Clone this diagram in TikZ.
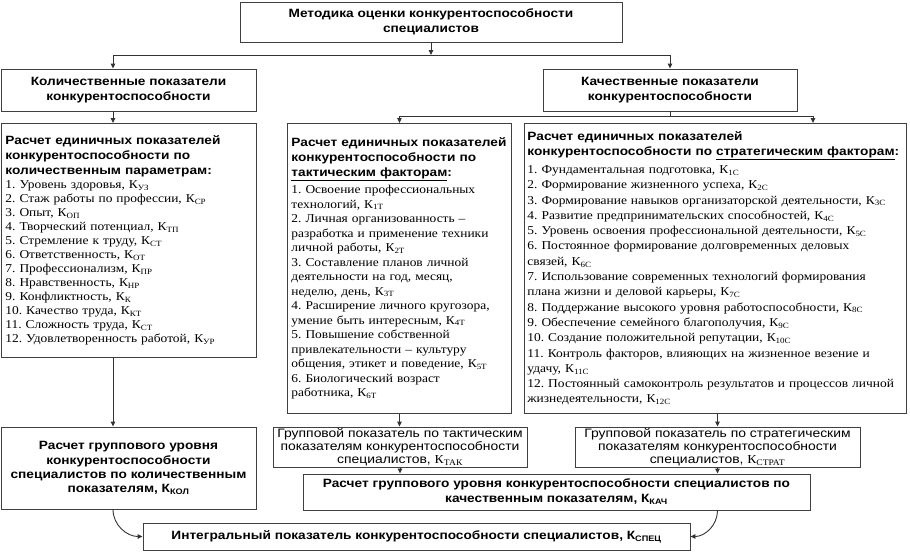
\documentclass[tikz,border=0pt]{standalone}
\usepackage{fontspec}
\setmainfont[FakeStretch=1.12]{Liberation Serif}
\setsansfont[FakeStretch=1.14]{Liberation Sans}
\usetikzlibrary{arrows.meta,positioning,calc}

\newcommand{\kind}[1]{К\textsubscript{#1}}
\newcommand{\hdfont}{\sffamily\bfseries\fontsize{12}{15}\selectfont}
\frenchspacing

\begin{document}
\begin{tikzpicture}[
  x=1pt, y=-1pt, >={Triangle[length=5pt,width=4.5pt]},
  line width=0.9pt, draw=black!80,
  box/.style={draw=black!75, rectangle, inner sep=2pt, align=center, font=\hdfont},
  listbox/.style={draw=black!75, rectangle, anchor=north west, inner xsep=4pt,
    inner ysep=3pt, align=left},
  grpbox/.style={draw=black!75, rectangle, inner xsep=2pt, inner ysep=0pt,
    align=center, font=\sffamily\fontsize{12.2}{13.3}\selectfont},
]
\useasboundingbox (0,0) rectangle (910,552);

% upper level
\node[box, minimum width=382pt, minimum height=40pt] (title) at (431,22)
  {Методика оценки конкурентоспособности\\специалистов};
\node[box, minimum width=255pt, minimum height=42pt] (qty) at (128.5,90)
  {Количественные показатели\\конкурентоспособности};
\node[box, minimum width=254pt, minimum height=42pt] (qual) at (670,90)
  {Качественные показатели\\конкурентоспособности};

% single indicators
\node[listbox, text width=247pt, minimum height=234pt,
  font=\fontsize{12}{14}\selectfont] (params) at (1,123)
  {{\hdfont Расчет единичных показателей\\конкурентоспособности по\\количественным параметрам:\par}
  1. Уровень здоровья, \kind{УЗ}\\
  2. Стаж работы по профессии, \kind{СР}\\
  3. Опыт, \kind{ОП}\\
  4. Творческий потенциал, \kind{ТП}\\
  5. Стремление к труду, \kind{СТ}\\
  6. Ответственность, \kind{ОТ}\\
  7. Профессионализм, \kind{ПР}\\
  8. Нравственность, \kind{НР}\\
  9. Конфликтность, \kind{К}\\
  10. Качество труда, \kind{КТ}\\
  11. Сложность труда, \kind{СТ}\\
  12. Удовлетворенность работой, \kind{УР}};
\node[listbox, text width=216pt, minimum height=290pt,
  font=\fontsize{12}{14.5}\selectfont] (tact) at (287,123)
  {{\hdfont Расчет единичных показателей\\конкурентоспособности по\\\underline{тактическим факторам}:\par}\vspace{2.5pt}
  1. Освоение профессиональных\\технологий, \kind{1Т}\\
  2. Личная организованность --\\разработка и применение техники\\личной работы, \kind{2Т}\\
  3. Составление планов личной\\деятельности на год, месяц,\\неделю, день, \kind{3Т}\\
  4. Расширение личного кругозора,\\умение быть интересным, \kind{4Т}\\
  5. Повышение собственной\\привлекательности -- культуру\\общения, этикет и поведение, \kind{5Т}\\
  6. Биологический возраст\\работника, \kind{6Т}};
\node[listbox, inner xsep=3pt, text width=376pt, minimum height=290pt,
  font=\fontsize{12}{15.3}\selectfont] (strat) at (524,123)
  {{\hdfont Расчет единичных показателей\\конкурентоспособности по \underline{стратегическим факторам}:\par}\vspace{2.5pt}
  1. Фундаментальная подготовка, \kind{1С}\\
  2. Формирование жизненного успеха, \kind{2С}\\
  \mbox{3. Формирование навыков организаторской деятельности, \kind{3С}}\\
  4. Развитие предпринимательских способностей, \kind{4С}\\
  \mbox{5. Уровень освоения профессиональной деятельности, \kind{5С}}\\
  6. Постоянное формирование долговременных деловых\\связей, \kind{6С}\\
  \mbox{7. Использование современных технологий формирования}\\плана жизни и деловой карьеры, \kind{7С}\\
  8. Поддержание высокого уровня работоспособности, \kind{8С}\\
  9. Обеспечение семейного благополучия, \kind{9С}\\
  10. Создание положительной репутации, \kind{10С}\\
  \mbox{11. Контроль факторов, влияющих на жизненное везение и}\\удачу, \kind{11С}\\
  \mbox{12. Постоянный самоконтроль результатов и процессов личной}\\жизнедеятельности, \kind{12С}};

% group indicators
\node[box, minimum width=255pt, minimum height=82pt,
  font=\sffamily\bfseries\fontsize{12}{14.3}\selectfont] (grpqty) at (128.5,468)
  {Расчет группового уровня\\конкурентоспособности\\специалистов по количественным\\показателям, К\textsubscript{КОЛ}};
\node[grpbox, minimum width=254pt, minimum height=40pt] (grptact) at (400,447)
  {Групповой показатель по тактическим\\показателям конкурентоспособности\\специалистов, {\rmfamily\kind{ТАК}}};
\node[grpbox, minimum width=285pt, minimum height=40pt] (grpstrat) at (717.5,447)
  {Групповой показатель по стратегическим\\показателям конкурентоспособности\\специалистов, {\rmfamily\kind{СТРАТ}}};
\node[box, minimum width=507pt, minimum height=36pt] (grpqual) at (556.5,492)
  {Расчет группового уровня конкурентоспособности специалистов по\\качественным показателям, К\textsubscript{КАЧ}};
\node[box, minimum width=547pt, minimum height=27pt] (integral) at (416.5,536.5)
  {Интегральный показатель конкурентоспособности специалистов, К\textsubscript{СПЕЦ}};

% connectors
\coordinate (busL) at (113,55);
\coordinate (qj) at (670,116);
\coordinate (sj) at (813,116);
\draw[->] (title.south) -- (title.south |- busL);
\draw[->] (busL) -| (qual.north);
\draw[->] (busL) -- (busL |- qty.north);
\draw[->] (qty.south -| busL) -- (params.north -| busL);
\draw (qual.south) -- (qj);
\draw[->] (qj) -| (tact.north);
\draw[->] (qj) -- (sj) -- (sj |- strat.north);
\draw[->] (params.south -| busL) -- (grpqty.north -| busL);
\draw[->] (tact.south) -- (tact.south |- grptact.north);
\draw[->] (grpstrat.north |- strat.south) -- (grpstrat.north);
\draw[->] (grptact.south) -- (grptact.south |- grpqual.north);
\draw[->] (grpstrat.south) -- (grpstrat.south |- grpqual.north);
\draw[->] (grpqty.south -| busL) to[out=-90, in=180] (integral.west);
\draw[->] (grpstrat.south |- grpqual.south) to[out=-90, in=0] (integral.east);
\end{tikzpicture}
\end{document}
